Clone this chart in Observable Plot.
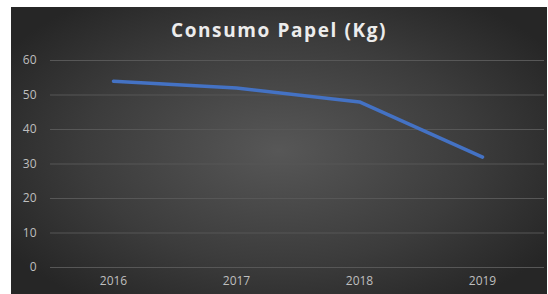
<!DOCTYPE html>
<html>
<head>
<meta charset="utf-8">
<script src="https://cdn.jsdelivr.net/npm/d3@7"></script>
<script src="https://cdn.jsdelivr.net/npm/@observablehq/plot@0.6"></script>
<style>
  html, body { margin: 0; padding: 0; background: #ffffff; }
  #chart {
    position: absolute; left: 11px; top: 7px; width: 536px; height: 287px;
    background: radial-gradient(ellipse 60% 65% at 50% 50%, #575757 0%, #3c3c3c 60%, #262626 100%);
    overflow: hidden;
  }
  #title {
    height: 45px; line-height: 46px; text-align: center;
    font-family: "Open Sans", Lato, sans-serif; font-weight: 700; font-size: 19px;
    letter-spacing: 1.6px; color: #ececec;
  }
</style>
</head>
<body>
<div id="chart"><div id="title">Consumo Papel (Kg)</div></div>
<script>
const years = ["2016", "2017", "2018", "2019"];
const consumo = [54, 52, 48, 32];
const yTicks = [0, 10, 20, 30, 40, 50, 60];

const data = years.map((y, i) => ({year: y, value: consumo[i]}));

const plot = Plot.plot({
  width: 536,
  height: 242,
  marginTop: 8,
  marginBottom: 27,
  marginLeft: 39,
  marginRight: 3,
  style: {background: "transparent", color: "#bfbfbf", fontFamily: "Open Sans, Lato, sans-serif", fontSize: "12px"},
  x: {type: "point", domain: years, padding: 0.5, label: null},
  y: {domain: [0, 60], label: null},
  marks: [
    Plot.ruleY(yTicks, {stroke: "#575757", strokeWidth: 1}),
    Plot.axisY(yTicks, {tickSize: 0, tickPadding: 14, label: null, fill: "#bfbfbf"}),
    Plot.axisX({tickSize: 0, tickPadding: 9, label: null, fill: "#bfbfbf"}),
    Plot.line(data, {x: "year", y: "value", stroke: "#4472c4", strokeWidth: 3.5, strokeLinecap: "round", strokeLinejoin: "round"})
  ]
});
document.getElementById("chart").appendChild(plot);
</script>
</body>
</html>
